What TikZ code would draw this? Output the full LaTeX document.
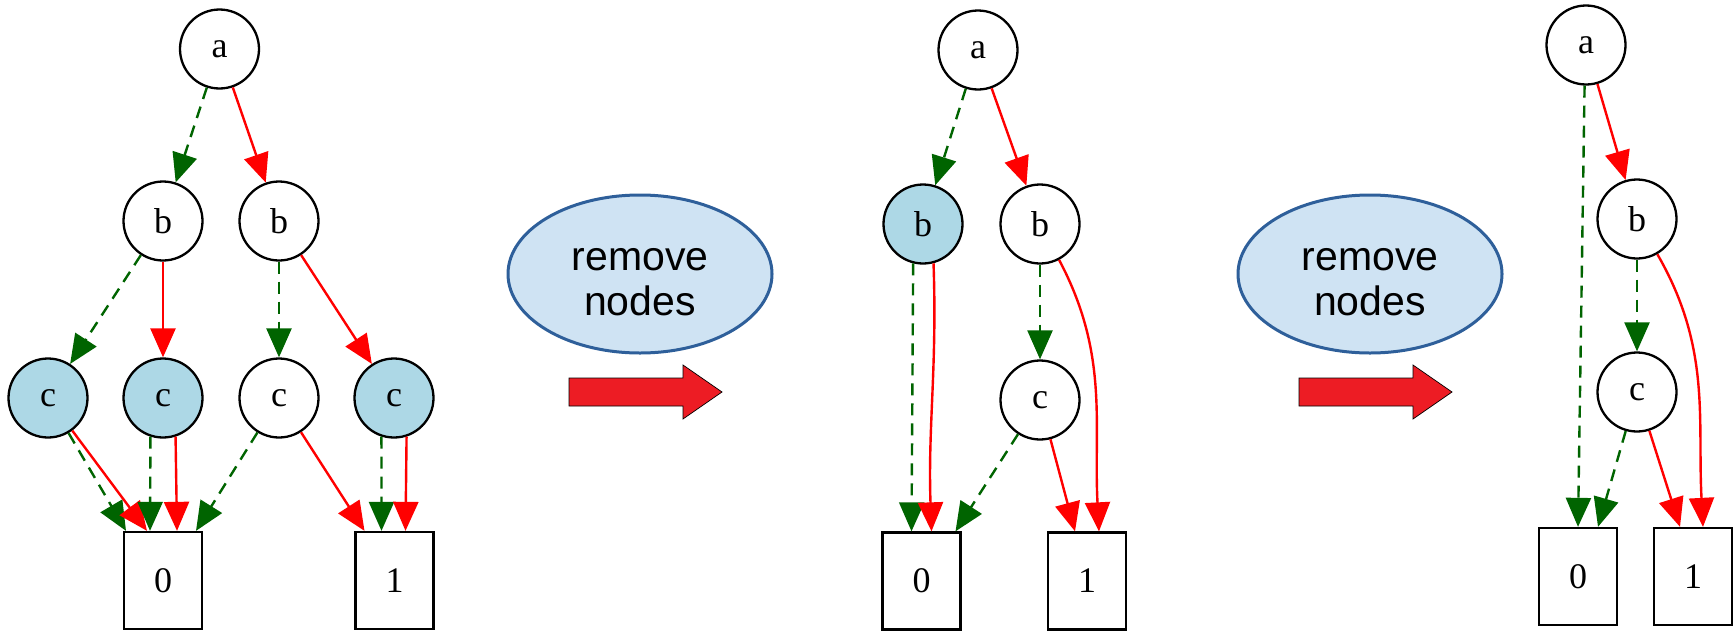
\documentclass[tikz,border=0pt]{standalone}
\usepackage{fontspec}
\setmainfont{Liberation Serif}
\newfontfamily\armfont{Liberation Sans}
\usetikzlibrary{arrows.meta,shapes.geometric}
\definecolor{gvgreen}{HTML}{006400}
\definecolor{gvred}{HTML}{FF0000}
\definecolor{hl}{HTML}{ADD8E6}
\definecolor{elfill}{HTML}{CFE3F3}
\definecolor{elline}{HTML}{2E5F9A}
\definecolor{arrred}{HTML}{ED1C24}
\begin{document}
\begin{tikzpicture}[x=1pt,y=1pt,
  bddnode/.style={circle,draw,line width=2.3pt,minimum size=79pt,inner sep=0pt,font=\fontsize{36}{40}\selectfont},
  hlnode/.style={bddnode,fill=hl},
  leaf/.style={rectangle,draw,line width=2.3pt,minimum width=78pt,minimum height=97pt,inner sep=0pt,font=\fontsize{36}{40}\selectfont},
  lo/.style={draw=gvgreen,line width=2.4pt,dash pattern=on 12pt off 8pt,-{Triangle[length=29pt,width=25pt]}},
  hi/.style={draw=gvred,line width=2.4pt,-{Triangle[length=29pt,width=25pt]}},
  opbox/.style={ellipse,draw=elline,line width=3pt,fill=elfill,minimum width=264pt,minimum height=158pt,inner sep=0pt},
  optext/.style={font=\armfont\fontsize{41}{45}\selectfont,align=center,inner sep=0pt},
  bigarrow/.style={fill=arrred,draw=black,line width=0.7pt}
]
\useasboundingbox (0,0) rectangle (1734,-632);

% ---------- panel 1 ----------
\node[bddnode] (a1) at (219.5,-49) {a};
\node[bddnode] (b11) at (163,-221) {b};
\node[bddnode] (b12) at (279,-221) {b};
\node[hlnode] (c11) at (48,-398) {c};
\node[hlnode] (c12) at (163,-398) {c};
\node[bddnode] (c13) at (279,-398) {c};
\node[hlnode] (c14) at (394,-398) {c};
\node[leaf] (z1) at (163,-580.5) {0};
\node[leaf] (o1) at (394.5,-580.5) {1};

\draw[lo] (a1) -- (b11);
\draw[hi] (a1) -- (b12);
\draw[lo] (b11) -- (c11);
\draw[hi] (b11) -- (c12);
\draw[lo] (b12) -- (c13);
\draw[hi] (b12) -- (c14);
\draw[lo] (c11) -- ([xshift=-37pt]z1.north);
\draw[hi] (c11) -- ([xshift=-16pt]z1.north);
\draw[lo] (c12.-108) -- ([xshift=-13pt]z1.north);
\draw[hi] (c12.-72) -- ([xshift=14pt]z1.north);
\draw[lo] (c13) -- ([xshift=33pt]z1.north);
\draw[hi] (c13) -- ([xshift=-30pt]o1.north);
\draw[lo] (c14.-108) -- ([xshift=-13pt]o1.north);
\draw[hi] (c14.-72) -- ([xshift=11pt]o1.north);

% ---------- operation 1 ----------
\node[opbox] (e1) at (640,-274) {};
\node[optext] (t1) at (640,-282) {remove\\nodes};
\draw[bigarrow] (569,-378) -- (683,-378) -- (683,-365) -- (722,-392) -- (683,-419) -- (683,-406) -- (569,-406) -- cycle;

% ---------- panel 2 ----------
\node[bddnode] (a2) at (978,-50) {a};
\node[hlnode] (b21) at (923,-224) {b};
\node[bddnode] (b22) at (1040,-224) {b};
\node[bddnode] (c2) at (1040,-400) {c};
\node[leaf] (z2) at (921.5,-581) {0};
\node[leaf] (o2) at (1087,-581) {1};

\draw[lo] (a2) -- (b21);
\draw[hi] (a2) -- (b22);
\draw[lo] (b21.-104) -- ([xshift=-10pt]z2.north);
\draw[hi] (b21.-75) to[out=-88,in=92] ([xshift=10pt]z2.north);
\draw[lo] (b22) -- (c2);
\draw[lo] (c2) -- ([xshift=34pt]z2.north);
\draw[hi] (c2) -- ([xshift=-12pt]o2.north);
\draw[hi] (b22.-62) to[out=-62,in=93] ([xshift=12pt]o2.north);

% ---------- operation 2 ----------
\node[opbox] (e2) at (1370,-274) {};
\node[optext] (t2) at (1370,-282) {remove\\nodes};
\draw[bigarrow] (1299,-378) -- (1413,-378) -- (1413,-365) -- (1452,-392) -- (1413,-419) -- (1413,-406) -- (1299,-406) -- cycle;

% ---------- panel 3 ----------
\node[bddnode] (a3) at (1586,-45) {a};
\node[bddnode] (b3) at (1637,-219) {b};
\node[bddnode] (c3) at (1637,-392) {c};
\node[leaf] (z3) at (1578,-576.5) {0};
\node[leaf] (o3) at (1693,-576.5) {1};

\draw[lo] (a3.-92) -- (z3.north);
\draw[hi] (a3) -- (b3);
\draw[lo] (b3) -- (c3);
\draw[lo] (c3) -- ([xshift=20pt]z3.north);
\draw[hi] (c3) -- ([xshift=-13pt]o3.north);
\draw[hi] (b3.-60) to[out=-60,in=93] ([xshift=10pt]o3.north);
\end{tikzpicture}
\end{document}
